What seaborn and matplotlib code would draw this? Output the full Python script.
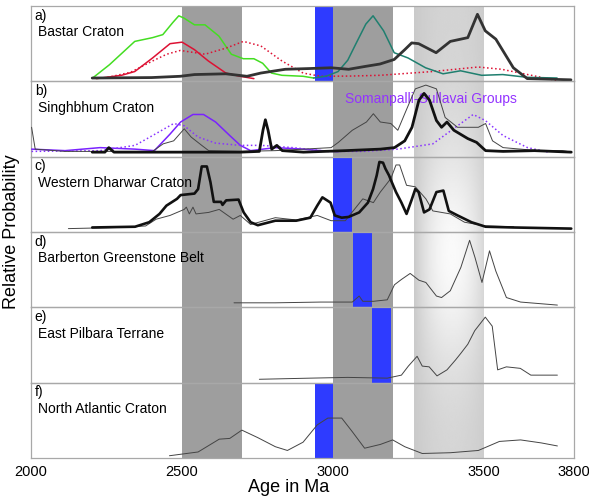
import numpy as np
import matplotlib
matplotlib.use("Agg")
import matplotlib.pyplot as plt
import seaborn as sns

# ages (Ma) and relative heights (0-1 of each panel)
# a) Bastar Craton
a_green_x = [2203, 2260, 2344, 2403, 2437, 2470, 2490, 2507, 2542, 2577, 2623, 2664, 2704, 2739, 2768, 2797, 2832, 2902, 2937]
a_green_y = [0.04, 0.22, 0.53, 0.58, 0.62, 0.78, 0.87, 0.84, 0.75, 0.75, 0.60, 0.36, 0.30, 0.30, 0.24, 0.11, 0.08, 0.067, 0.044]
a_red_x = [2217, 2300, 2344, 2403, 2461, 2501, 2542, 2588, 2646, 2693, 2739]
a_red_y = [0.036, 0.08, 0.13, 0.31, 0.50, 0.52, 0.42, 0.27, 0.11, 0.067, 0.036]
a_reddot_x = [2240, 2330, 2403, 2450, 2495, 2577, 2646, 2704, 2762, 2832, 2902, 2960, 3060, 3157, 3331, 3482, 3560, 3622, 3744]
a_reddot_y = [0.04, 0.12, 0.27, 0.36, 0.41, 0.36, 0.44, 0.53, 0.47, 0.27, 0.11, 0.067, 0.07, 0.08, 0.13, 0.19, 0.16, 0.11, 0.01]
a_teal_x = [2937, 2980, 3018, 3050, 3076, 3110, 3134, 3169, 3204, 3250, 3308, 3366, 3424, 3494, 3564, 3645, 3744]
a_teal_y = [0.044, 0.07, 0.13, 0.28, 0.49, 0.76, 0.87, 0.67, 0.38, 0.31, 0.18, 0.10, 0.14, 0.08, 0.09, 0.053, 0.044]
a_black_x = [2203, 2400, 2495, 2542, 2646, 2716, 2762, 2843, 2925, 2995, 3053, 3111, 3157, 3204, 3239, 3262, 3285, 3343, 3390,
             3448, 3480, 3506, 3541, 3599, 3645, 3790]
a_black_y = [0.044, 0.05, 0.067, 0.09, 0.10, 0.067, 0.11, 0.16, 0.17, 0.18, 0.16, 0.20, 0.23, 0.29, 0.42, 0.51, 0.50, 0.38, 0.53,
             0.58, 0.89, 0.67, 0.56, 0.18, 0.036, 0.02]

# b) Singhbhum Craton
b_purple_x = [2002, 2113, 2229, 2345, 2409, 2461, 2496, 2537, 2572, 2612, 2659, 2694, 2728, 2810, 2903, 2961, 3019]
b_purple_y = [0.10, 0.08, 0.12, 0.10, 0.08, 0.30, 0.46, 0.56, 0.56, 0.46, 0.28, 0.15, 0.08, 0.12, 0.10, 0.08, 0.067]
b_purpdot_x = [2002, 2229, 2345, 2403, 2473, 2508, 2554, 2612, 2694, 2763, 2868, 2984, 3100, 3216, 3332, 3414, 3466, 3506,
               3565, 3646, 3716]
b_purpdot_y = [0.07, 0.08, 0.15, 0.28, 0.44, 0.41, 0.26, 0.18, 0.15, 0.15, 0.12, 0.07, 0.07, 0.10, 0.17, 0.41, 0.56, 0.48,
               0.28, 0.12, 0.06]
b_thin_x = [2002, 2014, 2113, 2403, 2438, 2473, 2508, 2531, 2566, 2589, 2694, 2810, 2995, 3019, 3065, 3112, 3135, 3158, 3193,
            3216, 3239, 3274, 3309, 3344, 3373, 3414, 3483, 3507, 3530, 3565, 3681, 3762, 3791]
b_thin_y = [0.39, 0.10, 0.07, 0.07, 0.17, 0.21, 0.37, 0.26, 0.15, 0.08, 0.07, 0.08, 0.12, 0.19, 0.35, 0.46, 0.57, 0.46, 0.44,
            0.35, 0.57, 0.90, 0.95, 0.90, 0.52, 0.39, 0.39, 0.44, 0.21, 0.12, 0.08, 0.08, 0.06]
b_black_x = [2203, 2245, 2258, 2275, 2694, 2757, 2769, 2777, 2786, 2798, 2815, 2833, 2903, 3042, 3100, 3158, 3205, 3239, 3263,
             3286, 3303, 3321, 3344, 3361, 3379, 3402, 3448, 3477, 3507, 3565, 3669, 3791]
b_black_y = [0.06, 0.06, 0.12, 0.06, 0.06, 0.07, 0.35, 0.49, 0.35, 0.10, 0.15, 0.08, 0.06, 0.08, 0.09, 0.10, 0.12, 0.21, 0.39,
             0.75, 0.84, 0.75, 0.48, 0.39, 0.46, 0.35, 0.24, 0.19, 0.08, 0.07, 0.08, 0.06]

# c) Western Dharwar Craton
c_black_x = [2203, 2345, 2392, 2426, 2449, 2484, 2496, 2542, 2554, 2566, 2583, 2595, 2606, 2630, 2635, 2647, 2688, 2705, 2728,
             2752, 2810, 2879, 2926, 2949, 2966, 2993, 3007, 3030, 3053, 3088, 3117, 3134, 3146, 3155, 3167, 3175, 3187, 3193,
             3210, 3228, 3245, 3263, 3274, 3285, 3303, 3321, 3344, 3367, 3385, 3414, 3460, 3507, 3600, 3791]
c_black_y = [0.06, 0.07, 0.13, 0.24, 0.35, 0.44, 0.49, 0.51, 0.57, 0.87, 0.87, 0.66, 0.40, 0.40, 0.36, 0.42, 0.43, 0.26, 0.13,
             0.09, 0.15, 0.15, 0.19, 0.35, 0.46, 0.39, 0.22, 0.19, 0.20, 0.26, 0.39, 0.57, 0.75, 0.93, 0.92, 0.84, 0.75, 0.69,
             0.53, 0.39, 0.24, 0.44, 0.57, 0.53, 0.26, 0.30, 0.53, 0.55, 0.28, 0.22, 0.13, 0.07, 0.06, 0.045]
c_thin_x = [2124, 2287, 2380, 2415, 2461, 2508, 2515, 2525, 2537, 2547, 2589, 2624, 2670, 2694, 2728, 2810, 2879, 2949, 2995,
            3042, 3100, 3135, 3158, 3193, 3210, 3222, 3245, 3274, 3309, 3332, 3390, 3437, 3507, 3600]
c_thin_y = [0.045, 0.06, 0.08, 0.17, 0.22, 0.30, 0.33, 0.24, 0.33, 0.24, 0.26, 0.30, 0.17, 0.22, 0.10, 0.19, 0.16, 0.22, 0.15,
            0.15, 0.44, 0.39, 0.53, 0.71, 0.89, 0.89, 0.62, 0.60, 0.44, 0.28, 0.24, 0.13, 0.08, 0.07]

# d) Barberton Greenstone Belt
d_x = [2673, 2810, 2961, 3065, 3088, 3100, 3135, 3181, 3205, 3228, 3257, 3286, 3309, 3344, 3361, 3390, 3425, 3454, 3472, 3495,
       3520, 3541, 3576, 3623, 3745]
d_y = [0.06, 0.06, 0.07, 0.07, 0.15, 0.08, 0.08, 0.10, 0.30, 0.37, 0.45, 0.36, 0.33, 0.15, 0.13, 0.22, 0.53, 0.89, 0.66, 0.33,
       0.75, 0.48, 0.13, 0.07, 0.03]

# e) East Pilbara Terrane
e_x = [2757, 2926, 3050, 3181, 3228, 3251, 3280, 3297, 3320, 3346, 3379, 3407, 3425, 3448, 3471, 3506, 3529, 3547, 3576, 3622,
       3657, 3745]
e_y = [0.045, 0.06, 0.07, 0.06, 0.10, 0.22, 0.35, 0.22, 0.21, 0.09, 0.17, 0.30, 0.39, 0.51, 0.69, 0.87, 0.75, 0.17, 0.21, 0.19,
       0.10, 0.10]

# f) North Atlantic Craton
f_x = [2459, 2554, 2624, 2659, 2699, 2752, 2810, 2850, 2902, 2949, 2984, 3030, 3065, 3106, 3158, 3199, 3239, 3297, 3390, 3483,
       3553, 3623, 3692, 3745]
f_y = [0.03, 0.08, 0.25, 0.26, 0.37, 0.27, 0.15, 0.10, 0.21, 0.44, 0.53, 0.53, 0.35, 0.13, 0.18, 0.24, 0.15, 0.06, 0.07, 0.10,
       0.22, 0.24, 0.20, 0.16]

panel_tags = ["a)", "b)", "c)", "d)", "e)", "f)"]
panel_names = ["Bastar Craton", "Singhbhum Craton", "Western Dharwar Craton",
               "Barberton Greenstone Belt", "East Pilbara Terrane", "North Atlantic Craton"]
# blue bars (start, end in Ma), one per panel (None = no bar)
blue_bars = [(2940, 3000), None, (3000, 3065), (3068, 3130), (3130, 3195), (2940, 3000)]
dark_bands = [(2500, 2700), (3000, 3200)]
light_band = (3270, 3500)
xticks = [2000, 2500, 3000, 3500, 3800]

sns.set_style("white")
plt.rcParams["font.family"] = ["Liberation Sans", "DejaVu Sans"]
plt.rcParams["text.color"] = "black"
plt.rcParams["xtick.labelcolor"] = "black"

fig = plt.figure(figsize=(5.89, 5.0), dpi=100)
left, right, bottom, top = 0.0526, 0.9745, 0.084, 0.988

# background with the shaded age bands
bg = fig.add_axes([left, bottom, right - left, top - bottom])
bg.set_xlim(2000, 3800)
bg.set_ylim(0, 1)
bg.axis("off")
for x0, x1 in dark_bands:
    bg.axvspan(x0, x1, color="#9e9e9e", lw=0)
gx = np.linspace(light_band[0], light_band[1], 120)
gy = np.linspace(0, 1, 200)
GX, GY = np.meshgrid(gx, gy)
hx = (GX - 3395) / 125.0
glow = np.exp(-((GY - 0.45) ** 2) / (2 * 0.17 ** 2))
shade = 0.79 + 0.04 * (1 - hx ** 2) + 0.15 * np.clip(1 - hx ** 2, 0, 1) * glow
bg.imshow(shade, extent=(light_band[0], light_band[1], 0, 1), origin="lower",
          cmap="gray", vmin=0, vmax=1, aspect="auto", interpolation="bilinear")

axes = fig.subplots(6, 1, sharex=True)
fig.subplots_adjust(left=left, right=right, bottom=bottom, top=top, hspace=0)

for i, ax in enumerate(axes):
    ax.set_zorder(2)
    ax.set_facecolor("none")
    ax.set_xlim(2000, 3800)
    ax.set_ylim(0, 1)
    ax.set_yticks([])
    for s in ax.spines.values():
        s.set_color("#a8a8a8")
        s.set_linewidth(0.9)
    if blue_bars[i] is not None:
        ax.axvspan(*blue_bars[i], color="#2e3bff", lw=0, zorder=1)
    ax.text(0.007, 0.87, panel_tags[i], transform=ax.transAxes, fontsize=10, va="center", color="black")
    ax.text(0.013, 0.65, panel_names[i], transform=ax.transAxes, fontsize=10, va="center", color="black")
    ax.tick_params(axis="x", length=0, labelbottom=False)

def draw(ax, x, y, color, lw, ls="-"):
    sns.lineplot(x=x, y=y, ax=ax, color=color, lw=lw, linestyle=ls, sort=False, estimator=None, zorder=3)

ax = axes[0]
draw(ax, a_green_x, a_green_y, "#44dd22", 1.1)
draw(ax, a_red_x, a_red_y, "#dd1133", 1.1)
draw(ax, a_reddot_x, a_reddot_y, "#dd1133", 1.1, ":")
draw(ax, a_teal_x, a_teal_y, "#1f7f6f", 1.1)
draw(ax, a_black_x, a_black_y, "#333333", 2.0)

ax = axes[1]
ax.text(3042, 0.76, "Somanpalli-Sullavai Groups", color="#9333ff", fontsize=10, va="center", zorder=2)
draw(ax, b_purple_x, b_purple_y, "#7a22ff", 1.1)
draw(ax, b_purpdot_x, b_purpdot_y, "#8833ff", 1.1, ":")
draw(ax, b_thin_x, b_thin_y, "#444444", 0.7)
draw(ax, b_black_x, b_black_y, "#111111", 2.0)

ax = axes[2]
draw(ax, c_thin_x, c_thin_y, "#444444", 0.7)
draw(ax, c_black_x, c_black_y, "#111111", 1.9)

draw(axes[3], d_x, d_y, "#444444", 0.7)
draw(axes[4], e_x, e_y, "#444444", 0.7)
draw(axes[5], f_x, f_y, "#444444", 0.7)

for ax in axes:
    ax.set_xlabel("")
    ax.set_ylabel("")

axes[-1].set_xticks(xticks)
axes[-1].set_xticklabels([str(t) for t in xticks])
axes[-1].tick_params(axis="x", length=3, color="#a8a8a8", labelbottom=True, labelsize=10.5, pad=2, labelcolor="black")

fig.text(0.02, (top + bottom) / 2, "Relative Probability", rotation=90, fontsize=13, va="center", ha="center")
fig.text(0.49, 0.024, "Age in Ma", fontsize=13, va="center", ha="center")

fig.savefig("out.png", dpi=100)
